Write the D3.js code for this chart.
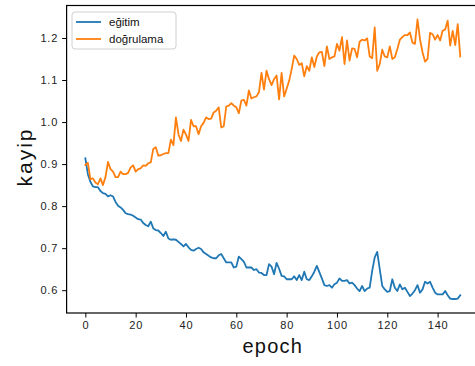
<!DOCTYPE html>
<html>
<head>
<meta charset="utf-8">
<script src="https://cdn.jsdelivr.net/npm/d3@7"></script>
<style>
  body { margin: 0; background: #fff; }
  text { font-family: "Liberation Sans", Arial, sans-serif; }
</style>
</head>
<body>
<script>
// sizes
const w = 475;
const h = 366;
const margin = {top: 5.5, right: -4, bottom: 53, left: 66.6};

// data
const seriesNames = ["eğitim", "doğrulama"];
const colors = ["#1f77b4", "#ff7f0e"];

const egitim = [
  0.914, 0.876, 0.858, 0.847, 0.845, 0.845, 0.836, 0.831, 0.829, 0.823,
  0.826, 0.823, 0.810, 0.801, 0.797, 0.791, 0.783, 0.781, 0.780, 0.777,
  0.773, 0.769, 0.768, 0.760, 0.755, 0.752, 0.763, 0.747, 0.743, 0.742,
  0.736, 0.729, 0.739, 0.723, 0.720, 0.721, 0.720, 0.715, 0.710, 0.704,
  0.710, 0.702, 0.696, 0.694, 0.698, 0.701, 0.698, 0.690, 0.686, 0.682,
  0.678, 0.676, 0.676, 0.683, 0.686, 0.676, 0.666, 0.666, 0.666, 0.654,
  0.656, 0.680, 0.674, 0.668, 0.654, 0.654, 0.654, 0.648, 0.650, 0.642,
  0.641, 0.636, 0.636, 0.662, 0.656, 0.638, 0.665, 0.651, 0.634, 0.633,
  0.626, 0.626, 0.626, 0.633, 0.624, 0.636, 0.624, 0.644, 0.626, 0.624,
  0.633, 0.644, 0.658, 0.643, 0.628, 0.612, 0.610, 0.612, 0.606, 0.614,
  0.618, 0.628, 0.622, 0.622, 0.624, 0.616, 0.618, 0.612, 0.604, 0.598,
  0.610, 0.598, 0.604, 0.606, 0.646, 0.678, 0.691, 0.650, 0.610, 0.602,
  0.596, 0.598, 0.626, 0.606, 0.598, 0.614, 0.602, 0.606, 0.596, 0.586,
  0.592, 0.600, 0.612, 0.594, 0.602, 0.620, 0.616, 0.620, 0.606, 0.594,
  0.590, 0.590, 0.590, 0.598, 0.588, 0.580, 0.579, 0.579, 0.580, 0.588
];

const dogrulama = [
  0.898, 0.903, 0.864, 0.866, 0.856, 0.852, 0.866, 0.850, 0.869, 0.905,
  0.888, 0.882, 0.869, 0.869, 0.882, 0.876, 0.876, 0.879, 0.892, 0.897,
  0.882, 0.888, 0.890, 0.897, 0.896, 0.902, 0.904, 0.936, 0.940, 0.920,
  0.921, 0.924, 0.926, 0.926, 0.958, 0.945, 1.011, 0.971, 0.955, 0.982,
  0.970, 0.955, 1.005, 0.990, 0.990, 0.971, 0.990, 0.998, 1.011, 1.007,
  1.008, 1.023, 1.027, 1.035, 0.987, 0.990, 1.037, 1.039, 1.045, 1.039,
  1.035, 1.021, 1.051, 1.053, 1.039, 1.075, 1.056, 1.059, 1.061, 1.071,
  1.117, 1.077, 1.122, 1.102, 1.088, 1.102, 1.111, 1.054, 1.117, 1.061,
  1.079, 1.098, 1.126, 1.158, 1.150, 1.136, 1.140, 1.109, 1.133, 1.122,
  1.154, 1.131, 1.156, 1.166, 1.167, 1.133, 1.180, 1.150, 1.154, 1.156,
  1.186, 1.170, 1.202, 1.138, 1.194, 1.146, 1.175, 1.174, 1.154, 1.191,
  1.196, 1.194, 1.199, 1.156, 1.152, 1.225, 1.122, 1.138, 1.172, 1.156,
  1.154, 1.180, 1.150, 1.154, 1.174, 1.196, 1.202, 1.207, 1.207, 1.213,
  1.189, 1.186, 1.244, 1.197, 1.166, 1.144, 1.150, 1.212, 1.209, 1.196,
  1.207, 1.194, 1.217, 1.220, 1.241, 1.182, 1.217, 1.183, 1.233, 1.156
];

const xTicks = [0, 20, 40, 60, 80, 100, 120, 140];
const yTicks = [0.6, 0.7, 0.8, 0.9, 1.0, 1.1, 1.2];

const epochs = d3.range(egitim.length);
const series = [egitim, dogrulama];

// matplotlib style 5% padding on both axes
const xMax = epochs.length - 1;
const xPad = xMax * 0.05;
const yMin = d3.min(series, s => d3.min(s));
const yMax = d3.max(series, s => d3.max(s));
const yPad = (yMax - yMin) * 0.05;

const xScale = d3.scaleLinear()
  .domain([-xPad, xMax + xPad])
  .range([margin.left, w - margin.right]);

const yScale = d3.scaleLinear()
  .domain([yMin - yPad, yMax + yPad])
  .range([h - margin.bottom, margin.top]);

const svg = d3.select("body")
  .append("svg")
  .attr("width", w)
  .attr("height", h);

// lines
const line = d3.line()
  .x((d, i) => xScale(i))
  .y(d => yScale(d));

svg.selectAll("path.series")
  .data(series)
  .enter()
  .append("path")
  .attr("class", "series")
  .attr("d", line)
  .attr("fill", "none")
  .attr("stroke", (d, i) => colors[i])
  .attr("stroke-width", 1.8)
  .attr("stroke-linejoin", "round")
  .attr("stroke-linecap", "square");

// axes
const bottomAxis = d3.axisBottom(xScale)
  .tickValues(xTicks)
  .tickSize(4.5)
  .tickPadding(4)
  .tickFormat(d3.format("d"));

const leftAxis = d3.axisLeft(yScale)
  .tickValues(yTicks)
  .tickSize(4.5)
  .tickPadding(4)
  .tickFormat(d3.format(".1f"));

const gx = svg.append("g")
  .attr("transform", "translate(0," + (h - margin.bottom) + ")")
  .call(bottomAxis);

const gy = svg.append("g")
  .attr("transform", "translate(" + margin.left + ",0)")
  .call(leftAxis);

[gx, gy].forEach(g => {
  g.select(".domain").remove();
  g.selectAll(".tick line").attr("stroke", "#000").attr("stroke-width", 1);
  g.selectAll(".tick text")
    .attr("fill", "#222")
    .style("font-size", "11px")
    .style("letter-spacing", "0.8px");
});

// frame
svg.append("rect")
  .attr("x", margin.left)
  .attr("y", margin.top)
  .attr("width", w - margin.right - margin.left)
  .attr("height", h - margin.bottom - margin.top)
  .attr("fill", "none")
  .attr("stroke", "#000")
  .attr("stroke-width", 1.2);

// axis labels
svg.append("text")
  .attr("x", (margin.left + w - margin.right) / 2)
  .attr("y", 352.5)
  .attr("text-anchor", "middle")
  .style("font-size", "20px")
  .style("letter-spacing", "1.2px")
  .attr("fill", "#111")
  .text("epoch");

svg.append("text")
  .attr("transform", "translate(32," + 157 + ") rotate(-90)")
  .attr("text-anchor", "middle")
  .style("font-size", "21px")
  .style("letter-spacing", "2px")
  .attr("fill", "#111")
  .text("kayip");

// legend
const legend = svg.append("g").attr("transform", "translate(72,12)");

legend.append("rect")
  .attr("width", 104)
  .attr("height", 37)
  .attr("rx", 3)
  .attr("fill", "#fff")
  .attr("fill-opacity", 0.8)
  .attr("stroke", "#d0d0d0")
  .attr("stroke-width", 1);

const items = legend.selectAll("g.item")
  .data(seriesNames)
  .enter()
  .append("g")
  .attr("class", "item")
  .attr("transform", (d, i) => "translate(0," + (10 + i * 17) + ")");

items.append("line")
  .attr("x1", 4)
  .attr("x2", 29)
  .attr("stroke", (d, i) => colors[i])
  .attr("stroke-width", 1.8);

items.append("text")
  .attr("x", 37)
  .attr("y", 4)
  .style("font-size", "11.5px")
  .attr("fill", "#111")
  .text(d => d);
</script>
</body>
</html>
